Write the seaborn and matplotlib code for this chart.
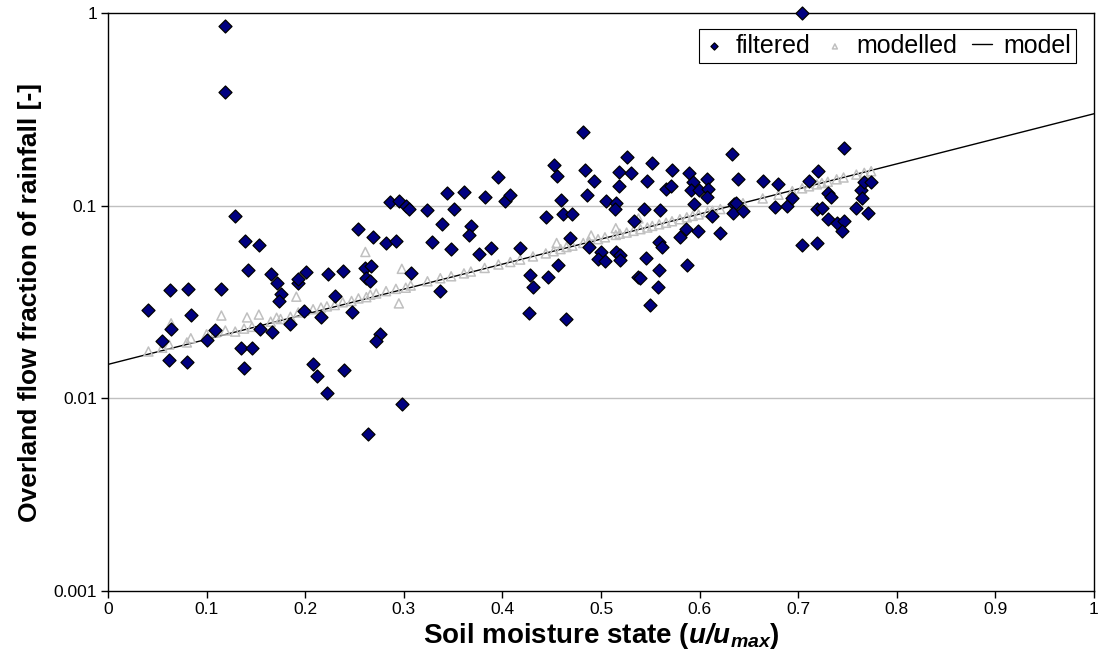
import matplotlib
matplotlib.use("Agg")
import matplotlib.pyplot as plt
import seaborn as sns
import pandas as pd
from matplotlib.ticker import FixedLocator, FixedFormatter, NullLocator

# ---------------- data ----------------
filtered_x = [0.119, 0.119, 0.704, 0.129, 0.139, 0.153, 0.142, 0.165, 0.171, 0.063,
              0.081, 0.115, 0.175, 0.193, 0.193, 0.173, 0.041, 0.084, 0.064, 0.109,
              0.055, 0.100, 0.154, 0.166, 0.185, 0.062, 0.080, 0.135, 0.146, 0.138,
              0.286, 0.295, 0.302, 0.305, 0.324, 0.344, 0.361, 0.351, 0.339, 0.368,
              0.366, 0.254, 0.269, 0.282, 0.292, 0.329, 0.348, 0.376, 0.201, 0.223,
              0.238, 0.261, 0.267, 0.262, 0.266, 0.307, 0.230, 0.337, 0.199, 0.216,
              0.247, 0.276, 0.272, 0.208, 0.212, 0.239, 0.222, 0.298, 0.264, 0.482,
              0.382, 0.396, 0.403, 0.408, 0.452, 0.455, 0.459, 0.484, 0.493, 0.486,
              0.505, 0.526, 0.552, 0.518, 0.530, 0.547, 0.518, 0.515, 0.514, 0.544,
              0.560, 0.444, 0.461, 0.471, 0.533, 0.469, 0.488, 0.388, 0.418, 0.500,
              0.497, 0.504, 0.515, 0.519, 0.519, 0.546, 0.559, 0.456, 0.428, 0.446,
              0.538, 0.559, 0.431, 0.427, 0.465, 0.558, 0.550, 0.572, 0.566, 0.571,
              0.589, 0.593, 0.591, 0.599, 0.608, 0.609, 0.608, 0.594, 0.633, 0.639,
              0.664, 0.680, 0.635, 0.634, 0.644, 0.613, 0.586, 0.598, 0.580, 0.621,
              0.562, 0.587, 0.540, 0.676, 0.689, 0.694, 0.704, 0.719, 0.720, 0.711,
              0.746, 0.730, 0.733, 0.719, 0.724, 0.730, 0.739, 0.746, 0.744, 0.759,
              0.771, 0.764, 0.765, 0.767, 0.774, 0.637]
filtered_y = [0.856, 0.389, 1.0, 0.0887, 0.0656, 0.0625, 0.0462, 0.0442, 0.0396, 0.0364,
              0.0368, 0.0368, 0.0347, 0.0399, 0.0417, 0.0321, 0.0286, 0.0270, 0.0229, 0.0226,
              0.0198, 0.0202, 0.0228, 0.0222, 0.0243, 0.0159, 0.0155, 0.0183, 0.0182, 0.0143,
              0.105, 0.106, 0.100, 0.0965, 0.0954, 0.116, 0.118, 0.0962, 0.080, 0.0785,
              0.0707, 0.076, 0.0686, 0.064, 0.0656, 0.065, 0.0598, 0.0561, 0.0451, 0.0441,
              0.0457, 0.0475, 0.0488, 0.0423, 0.0408, 0.0446, 0.0340, 0.0360, 0.0284, 0.0264,
              0.0280, 0.0215, 0.0199, 0.0150, 0.0131, 0.0140, 0.0107, 0.0093, 0.00656, 0.240,
              0.111, 0.141, 0.106, 0.114, 0.162, 0.142, 0.107, 0.153, 0.135, 0.114,
              0.106, 0.179, 0.166, 0.150, 0.147, 0.134, 0.127, 0.103, 0.0962, 0.0962,
              0.095, 0.0871, 0.0906, 0.0906, 0.0833, 0.068, 0.0610, 0.0605, 0.0601, 0.0575,
              0.0529, 0.0516, 0.0575, 0.0555, 0.0523, 0.0533, 0.0650, 0.0492, 0.0437, 0.0425,
              0.0427, 0.0464, 0.0377, 0.0277, 0.0257, 0.0377, 0.0306, 0.154, 0.122, 0.126,
              0.148, 0.132, 0.121, 0.121, 0.138, 0.122, 0.111, 0.102, 0.185, 0.137,
              0.134, 0.130, 0.102, 0.092, 0.094, 0.0887, 0.0755, 0.0739, 0.069, 0.0724,
              0.0608, 0.0491, 0.0423, 0.098, 0.0996, 0.110, 0.0623, 0.0638, 0.151, 0.134,
              0.199, 0.116, 0.111, 0.0964, 0.0977, 0.0853, 0.0813, 0.0833, 0.0739, 0.0973,
              0.092, 0.120, 0.109, 0.133, 0.133, 0.103]

modelled_x = [0.041, 0.055, 0.062, 0.064, 0.080, 0.084, 0.100, 0.109, 0.115, 0.119,
              0.129, 0.138, 0.141, 0.146, 0.153, 0.165, 0.171, 0.175, 0.185, 0.191,
              0.193, 0.199, 0.208, 0.216, 0.222, 0.230, 0.238, 0.247, 0.254, 0.261,
              0.262, 0.266, 0.272, 0.282, 0.292, 0.295, 0.298, 0.302, 0.307, 0.324,
              0.337, 0.348, 0.361, 0.368, 0.382, 0.396, 0.408, 0.418, 0.431, 0.444,
              0.452, 0.455, 0.459, 0.465, 0.471, 0.482, 0.488, 0.490, 0.497, 0.504,
              0.515, 0.515, 0.519, 0.526, 0.533, 0.538, 0.540, 0.547, 0.552, 0.559,
              0.566, 0.572, 0.580, 0.587, 0.593, 0.599, 0.608, 0.613, 0.621, 0.635,
              0.644, 0.664, 0.680, 0.694, 0.704, 0.711, 0.719, 0.724, 0.730, 0.739,
              0.746, 0.759, 0.767, 0.774]
modelled_y = [0.0175, 0.0183, 0.0190, 0.0245, 0.0195, 0.0205, 0.0215, 0.0220, 0.0269, 0.0225,
              0.0222, 0.0230, 0.0263, 0.0235, 0.0272, 0.0250, 0.0262, 0.0258, 0.0265, 0.0337,
              0.0279, 0.0285, 0.0290, 0.0296, 0.0300, 0.0305, 0.0315, 0.0320, 0.0330, 0.0575,
              0.0335, 0.0345, 0.0350, 0.0360, 0.0370, 0.0311, 0.0470, 0.0375, 0.0385, 0.0405,
              0.0420, 0.0430, 0.0445, 0.0455, 0.0475, 0.0495, 0.0510, 0.0525, 0.0545, 0.0565,
              0.0580, 0.0640, 0.0595, 0.0610, 0.0620, 0.0640, 0.0650, 0.0700, 0.0670, 0.0685,
              0.0705, 0.0764, 0.0715, 0.0725, 0.0740, 0.0859, 0.0755, 0.0770, 0.0785, 0.0800,
              0.0815, 0.0830, 0.0850, 0.0870, 0.0885, 0.0900, 0.0925, 0.0940, 0.0960, 0.1000,
              0.1030, 0.1090, 0.1140, 0.1190, 0.1230, 0.1260, 0.1290, 0.1310, 0.1330, 0.1370,
              0.1400, 0.1450, 0.1480, 0.1510]

model_x = [0.0, 1.0]
model_y = [0.015, 0.30]

x_ticks = [0, 0.1, 0.2, 0.3, 0.4, 0.5, 0.6, 0.7, 0.8, 0.9, 1]
x_tick_labels = ["0", "0.1", "0.2", "0.3", "0.4", "0.5", "0.6", "0.7", "0.8", "0.9", "1"]
y_ticks = [0.001, 0.01, 0.1, 1]
y_tick_labels = ["0.001", "0.01", "0.1", "1"]

df_f = pd.DataFrame({"x": filtered_x, "y": filtered_y})
df_m = pd.DataFrame({"x": modelled_x, "y": modelled_y})
df_l = pd.DataFrame({"x": model_x, "y": model_y})

# ---------------- style ----------------
sns.set_style("white")
plt.rcParams["font.family"] = ["Liberation Sans", "DejaVu Sans"]
plt.rcParams["text.color"] = "black"
plt.rcParams["axes.labelcolor"] = "black"
plt.rcParams["xtick.color"] = "black"
plt.rcParams["ytick.color"] = "black"
plt.rcParams["mathtext.fontset"] = "custom"
plt.rcParams["mathtext.rm"] = "Liberation Sans"
plt.rcParams["mathtext.it"] = "Liberation Sans:italic"
plt.rcParams["mathtext.bf"] = "Liberation Sans:bold"
try:
    plt.rcParams["mathtext.bfit"] = "Liberation Sans:italic:bold"
except KeyError:
    pass

fig = plt.figure(figsize=(10.98, 6.59), dpi=100)
ax = fig.add_axes([108 / 1098, 1 - 591 / 659, (1094 - 108) / 1098, (591 - 13) / 659])

ax.set_yscale("log")
ax.set_xlim(0, 1)
ax.set_ylim(0.001, 1)

# grid
for gy in [0.01, 0.1]:
    ax.axhline(gy, color="#c0c0c0", lw=1.0, zorder=0)

sns.lineplot(data=df_l, x="x", y="y", ax=ax, color="black", lw=1.0,
             label="model", zorder=2)
sns.scatterplot(data=df_m, x="x", y="y", ax=ax, marker="^", s=42,
                facecolor="none", edgecolor="#c0c0c0", linewidth=1.1,
                label="modelled", zorder=3)
sns.scatterplot(data=df_f, x="x", y="y", ax=ax, marker="D", s=44,
                color="#000080", edgecolor="black", linewidth=0.9,
                label="filtered", zorder=4, clip_on=False)

ax.xaxis.set_major_locator(FixedLocator(x_ticks))
ax.xaxis.set_major_formatter(FixedFormatter(x_tick_labels))
ax.yaxis.set_major_locator(FixedLocator(y_ticks))
ax.yaxis.set_major_formatter(FixedFormatter(y_tick_labels))
ax.yaxis.set_minor_locator(NullLocator())
ax.xaxis.set_minor_locator(NullLocator())

ax.tick_params(axis="both", which="major", direction="out", length=5, width=1,
               color="black", labelcolor="black", labelsize=12.5, pad=3,
               bottom=True, left=True, top=False, right=False)

for sp in ax.spines.values():
    sp.set_color("black")
    sp.set_linewidth(1.0)
    sp.set_visible(True)

ax.set_xlabel(r"Soil moisture state ($\mathbfit{u/u}_{\mathbfit{max}}$)",
              fontsize=20, fontweight="bold", labelpad=3, color="black")
ax.set_ylabel("Overland flow fraction of rainfall [-]", fontsize=19,
              fontweight="bold", labelpad=8, color="black")

handles, labels = ax.get_legend_handles_labels()
order = [labels.index("filtered"), labels.index("modelled"), labels.index("model")]
leg = ax.legend([handles[i] for i in order], [labels[i] for i in order],
                loc="upper right", bbox_to_anchor=((1076 - 108) / 986, (591 - 29) / 578),
                ncol=3, frameon=True, fancybox=False, framealpha=1,
                edgecolor="black", fontsize=18, markerscale=0.55,
                handlelength=0.8, handletextpad=0.45, columnspacing=0.6,
                borderpad=0.2, borderaxespad=0, labelcolor="black")
leg.get_frame().set_linewidth(0.8)

fig.savefig("out.png", dpi=100)
